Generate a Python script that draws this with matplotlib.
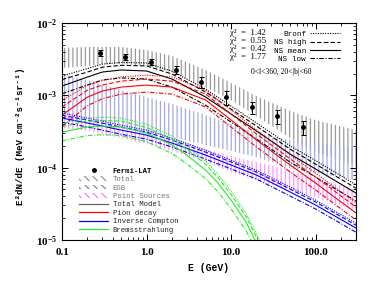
import matplotlib.pyplot as plt
from matplotlib.lines import Line2D
from matplotlib.patches import Patch

# energies (GeV) at which the model curves were read
E = [0.1, 0.2, 0.3, 0.5, 1, 2, 5, 10, 20, 50, 100, 300]

# total model (MeV cm^-2 s^-1 sr^-1)
tot_bronf = [1.85e-3, 2.35e-3, 2.7e-3, 2.85e-3, 2.8e-3, 2.15e-3, 1.22e-3, 7.1e-4, 4.15e-4, 2.0e-4, 1.25e-4, 5.8e-5]
tot_high = [1.65e-3, 2.1e-3, 2.45e-3, 2.6e-3, 2.55e-3, 1.97e-3, 1.11e-3, 6.45e-4, 3.75e-4, 1.8e-4, 1.12e-4, 5.2e-5]
tot_mean = [1.345e-3, 1.79e-3, 2.10e-3, 2.24e-3, 2.17e-3, 1.68e-3, 9.46e-4, 5.51e-4, 3.21e-4, 1.54e-4, 9.57e-5, 4.45e-5]
tot_low = [1.05e-3, 1.39e-3, 1.63e-3, 1.74e-3, 1.68e-3, 1.30e-3, 7.3e-4, 4.27e-4, 2.49e-4, 1.19e-4, 7.4e-5, 3.45e-5]

# pion decay
pi_bronf = [8.5e-4, 1.37e-3, 1.6e-3, 1.8e-3, 1.9e-3, 1.79e-3, 1.18e-3, 6.25e-4, 3.3e-4, 1.5e-4, 8.4e-5, 3.25e-5]
pi_high = [6.9e-4, 1.18e-3, 1.39e-3, 1.57e-3, 1.68e-3, 1.57e-3, 1.04e-3, 5.5e-4, 2.92e-4, 1.32e-4, 7.4e-5, 2.85e-5]
pi_mean = [5.34e-4, 9.46e-4, 1.146e-3, 1.30e-3, 1.387e-3, 1.30e-3, 8.61e-4, 4.55e-4, 2.41e-4, 1.087e-4, 6.12e-5, 2.36e-5]
pi_low = [3.7e-4, 7.2e-4, 9.0e-4, 1.04e-3, 1.11e-3, 1.04e-3, 6.9e-4, 3.64e-4, 1.93e-4, 8.7e-5, 4.9e-5, 1.89e-5]

# inverse compton
ic_bronf = [5.7e-4, 4.85e-4, 4.4e-4, 3.87e-4, 3.3e-4, 2.56e-4, 1.74e-4, 1.27e-4, 9.2e-5, 5.4e-5, 3.55e-5, 1.71e-5]
ic_high = [5.3e-4, 4.55e-4, 4.13e-4, 3.64e-4, 3.1e-4, 2.41e-4, 1.64e-4, 1.2e-4, 8.7e-5, 5.05e-5, 3.35e-5, 1.6e-5]
ic_mean = [4.85e-4, 4.14e-4, 3.76e-4, 3.31e-4, 2.82e-4, 2.19e-4, 1.49e-4, 1.087e-4, 7.9e-5, 4.6e-5, 3.04e-5, 1.46e-5]
ic_low = [4.25e-4, 3.65e-4, 3.3e-4, 2.9e-4, 2.48e-4, 1.93e-4, 1.31e-4, 9.6e-5, 6.95e-5, 4.05e-5, 2.68e-5, 1.28e-5]

# bremsstrahlung, read on its own (denser) energy grid
br_E = [0.1, 0.2, 0.3, 0.5, 1, 2, 3, 5, 7, 10, 15, 20, 30]
br_bronf = [4.1e-4, 4.85e-4, 5.0e-4, 4.85e-4, 4.0e-4, 2.74e-4, 1.98e-4, 1.23e-4, 8.1e-5, 4.75e-5, 2.35e-5, 1.2e-5, 4.3e-6]
br_high = [3.7e-4, 4.4e-4, 4.5e-4, 4.4e-4, 3.6e-4, 2.47e-4, 1.79e-4, 1.11e-4, 7.3e-5, 4.27e-5, 2.12e-5, 1.09e-5, 3.9e-6]
br_mean = [3.10e-4, 3.65e-4, 3.76e-4, 3.65e-4, 3.01e-4, 2.06e-4, 1.49e-4, 9.27e-5, 6.12e-5, 3.56e-5, 1.77e-5, 9.06e-6, 3.27e-6]
br_low = [2.35e-4, 2.78e-4, 2.86e-4, 2.78e-4, 2.29e-4, 1.57e-4, 1.13e-4, 7.05e-5, 4.65e-5, 2.7e-5, 1.35e-5, 6.9e-6, 2.5e-6]

# uncertainty bands
total_hi = [4.51e-3, 4.66e-3, 4.66e-3, 4.66e-3, 4.23e-3, 3.50e-3, 2.24e-3, 1.48e-3, 9.78e-4, 6.07e-4, 4.55e-4, 3.31e-4]
total_lo = [2.39e-3, 2.54e-3, 2.71e-3, 2.71e-3, 2.54e-3, 2.10e-3, 1.30e-3, 8.61e-4, 5.17e-4, 2.57e-4, 1.64e-4, 1.087e-4]
egb_hi = [1.97e-3, 1.63e-3, 1.43e-3, 1.18e-3, 9.46e-4, 7.58e-4, 5.34e-4, 4.01e-4, 3.01e-4, 2.41e-4, 2.19e-4, 1.87e-4]
egb_lo = [4.85e-4, 4.27e-4, 3.88e-4, 3.53e-4, 3.10e-4, 2.65e-4, 2.06e-4, 1.70e-4, 1.40e-4, 9.87e-5, 8.41e-5, 6.73e-5]
ps_hi = [5.69e-4, 5.01e-4, 4.55e-4, 4.01e-4, 3.31e-4, 2.57e-4, 1.81e-4, 1.45e-4, 1.19e-4, 9.27e-5, 7.18e-5, 4.9e-5]
ps_lo = [3.53e-4, 3.21e-4, 2.92e-4, 2.57e-4, 2.12e-4, 1.70e-4, 1.19e-4, 8.69e-5, 6.73e-5, 4.9e-5, 3.92e-5, 2.59e-5]

# Fermi-LAT data
lat_E = [0.28, 0.56, 1.13, 2.25, 4.4, 8.8, 17.5, 35, 71]
lat_flux = [3.85e-3, 3.39e-3, 2.89e-3, 2.24e-3, 1.53e-3, 9.46e-4, 6.89e-4, 5.17e-4, 3.65e-4]
lat_err = [0.4e-3, 0.35e-3, 0.3e-3, 0.28e-3, 0.28e-3, 0.2e-3, 0.13e-3, 0.11e-3, 0.08e-3]

models = ['Bronf', 'NS high', 'NS mean', 'NS low']
chi2 = ['1.42', '0.55', '0.42', '1.77']
styles = [(0, (1, 1.2)), (0, (4, 2)), '-', (0, (4, 1.5, 1, 1.5))]

mono = ['Liberation Mono', 'DejaVu Sans Mono']
serif = ['Liberation Serif', 'DejaVu Serif']
plt.rcParams['hatch.linewidth'] = 0.9
plt.rcParams['mathtext.fontset'] = 'custom'
plt.rcParams['mathtext.rm'] = 'Liberation Serif'
plt.rcParams['font.family'] = serif

fig = plt.figure(figsize=(3.74, 2.81), dpi=100)
ax = fig.add_axes([62/374, 41/281, 294/374, 217/281])

ax.fill_between(E, total_lo, total_hi, facecolor='none', edgecolor='#999999', hatch='||||', linewidth=0)
ax.fill_between(E, egb_lo, egb_hi, facecolor='none', edgecolor='#a8a8e0', hatch='||||', linewidth=0)
ax.fill_between(E, ps_lo, ps_hi, facecolor='none', edgecolor='#ff99ff', hatch='||||', linewidth=0)

groups = [
    ('#000000', E, [tot_bronf, tot_high, tot_mean, tot_low]),
    ('#ff0000', E, [pi_bronf, pi_high, pi_mean, pi_low]),
    ('#0000ff', E, [ic_bronf, ic_high, ic_mean, ic_low]),
    ('#22ee22', br_E, [br_bronf, br_high, br_mean, br_low]),
]
for color, xs, curves in groups:
    for vals, ls in zip(curves, styles):
        ax.plot(xs, vals, color=color, ls=ls, lw=0.8)

ax.errorbar(lat_E, lat_flux, yerr=lat_err, fmt='o', color='black', ms=2.5,
            elinewidth=0.7, capsize=1.8, capthick=0.7)

ax.set_xscale('log')
ax.set_yscale('log')
ax.set_xlim(0.1, 300)
ax.set_ylim(1e-5, 1e-2)
ax.set_xticks([0.1, 1, 10, 100])
ax.set_xticklabels(['0.1', '1.0', '10.0', '100.0'])
ax.tick_params(which='both', direction='in', top=True, right=True, labelsize=8)
ax.tick_params(which='major', length=4, width=0.7)
ax.tick_params(which='minor', length=2, width=0.6)
ax.tick_params(axis='x', pad=6)
for s in ax.spines.values():
    s.set_linewidth(0.8)
for lab in ax.get_xticklabels() + ax.get_yticklabels():
    lab.set_fontweight('bold')

ax.set_xlabel('E (GeV)', family=mono, fontsize=7, fontweight='bold', labelpad=4)
ax.set_ylabel('E²dN/dE (MeV cm⁻²s⁻¹sr⁻¹)', family=mono, fontsize=6.6, fontweight='bold', labelpad=3)
ax.yaxis.set_label_coords(-0.125, 0.48)

# lower-left legend
h1 = [
    Line2D([], [], ls='none', marker='o', color='black', ms=2.5),
    Patch(facecolor='none', edgecolor='#999999', hatch='\\\\\\\\', linewidth=0),
    Patch(facecolor='none', edgecolor='#8080d0', hatch='\\\\\\\\', linewidth=0),
    Patch(facecolor='none', edgecolor='#ff77ff', hatch='\\\\\\\\', linewidth=0),
    Line2D([], [], color='#666666', lw=0.9),
    Line2D([], [], color='#ff0000', lw=0.9),
    Line2D([], [], color='#0000ff', lw=0.9),
    Line2D([], [], color='#22ee22', lw=0.9),
]
l1 = ['Fermi-LAT', 'Total', 'EGB', 'Point Sources', 'Total Model',
      'Pion decay', 'Inverse Compton', 'Bremsstrahlung']
leg1 = ax.legend(h1, l1, loc='upper left', bbox_to_anchor=(0.045, 0.35), frameon=False,
                 prop={'family': mono, 'size': 5.2}, handlelength=4.1, handleheight=0.6,
                 labelspacing=0.2, handletextpad=0.6, borderpad=0,
                 labelcolor=['black', '#777777', '#777777', '#777777', '#222222',
                             '#222222', '#222222', '#222222'])
leg1.get_texts()[0].set_fontweight('bold')
ax.add_artist(leg1)

# top-right legend for model variants
h2 = [Line2D([], [], color='black', ls=ls, lw=0.8) for ls in styles]
leg2 = ax.legend(h2, models, loc='upper right', bbox_to_anchor=(0.96, 0.982), frameon=False,
                 prop={'family': mono, 'size': 5.5}, handlelength=4, markerfirst=False,
                 labelspacing=0.13, handletextpad=0.5, borderpad=0)
for i, c in enumerate(chi2):
    ax.text(0.57, 0.953 - i * 0.0369, 'χ²  =  ' + c, transform=ax.transAxes,
            fontsize=6.3, va='center', ha='left')
ax.text(0.745, 0.775, '0<l<360, 20<|b|<60', transform=ax.transAxes,
        fontsize=5.5, va='center', ha='center')

fig.savefig('out.png', dpi=100)
